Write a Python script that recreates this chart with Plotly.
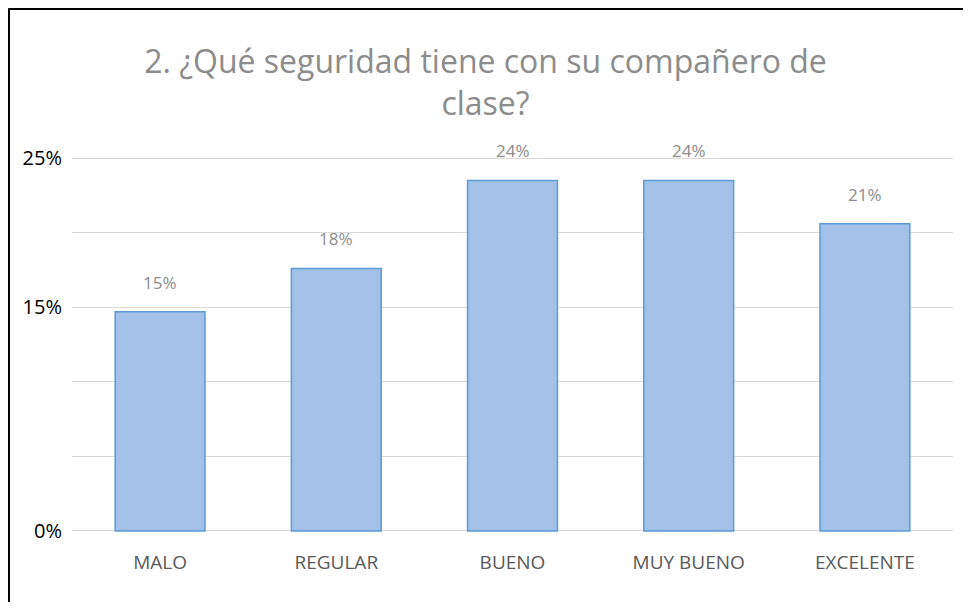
import plotly.graph_objects as go

categories = ["MALO", "REGULAR", "BUENO", "MUY BUENO", "EXCELENTE"]
values = [14.7, 17.6, 23.5, 23.5, 20.6]
labels = ["15%", "18%", "24%", "24%", "21%"]
ytick_vals = [0, 5, 10, 15, 20, 25]
ytick_text = ["0%", "", "", "15%", "", "25%"]

# page body has an 8px margin; figure sized to fit inside the window
W, H = 955, 594
L, R, T, B = 64, 10, 148, 69
pw = W - L - R
ph = H - T - B

def px_x(x):
    return (x - L) / pw

def px_y(y):
    return (H - B - y) / ph

fig = go.Figure()
fig.add_trace(go.Bar(
    x=categories, y=values,
    marker=dict(color="#a3c1e7", line=dict(color="#5b9bd5", width=1.5)),
    cliponaxis=False, hoverinfo="skip",
))

annotations = [
    dict(x=c, y=v, text=t, showarrow=False, xref="x", yref="y",
         yanchor="bottom", yshift=16,
         font=dict(family="Open Sans", size=17, color="#8c8c8c"))
    for c, v, t in zip(categories, values, labels)
]

fig.update_layout(
    width=W, height=H,
    margin=dict(l=L, r=R, t=T, b=B),
    paper_bgcolor="white", plot_bgcolor="white",
    bargap=0.49,
    showlegend=False,
    title=dict(
        text="2. ¿Qué seguridad tiene con su compañero de<br>clase?",
        x=0.5, xanchor="center", y=1 - 65 / H, yanchor="top",
        font=dict(family="Open Sans", size=32, color="#8c8c8c"),
    ),
    font=dict(family="Open Sans"),
    xaxis=dict(
        showgrid=False, showline=False, zeroline=False,
        tickfont=dict(size=19, color="#595959"),
        ticks="", ticklabelstandoff=16,
    ),
    yaxis=dict(
        range=[-0.14, 25.14], tickvals=ytick_vals, ticktext=ytick_text,
        showgrid=True, gridcolor="#d9d9d9", gridwidth=1,
        zeroline=False, showline=False, ticks="",
        tickfont=dict(size=20, color="#000000"),
        ticklabelstandoff=9,
    ),
    annotations=annotations,
    shapes=[
        dict(type="line", xref="paper", yref="paper",
             x0=px_x(0.5), x1=px_x(0.5), y0=px_y(H + 5), y1=px_y(0.5),
             line=dict(color="black", width=3)),
        dict(type="line", xref="paper", yref="paper",
             x0=px_x(0.5), x1=px_x(W + 5), y0=px_y(0.5), y1=px_y(0.5),
             line=dict(color="black", width=3)),
    ],
)

fig.write_html("out.html")
